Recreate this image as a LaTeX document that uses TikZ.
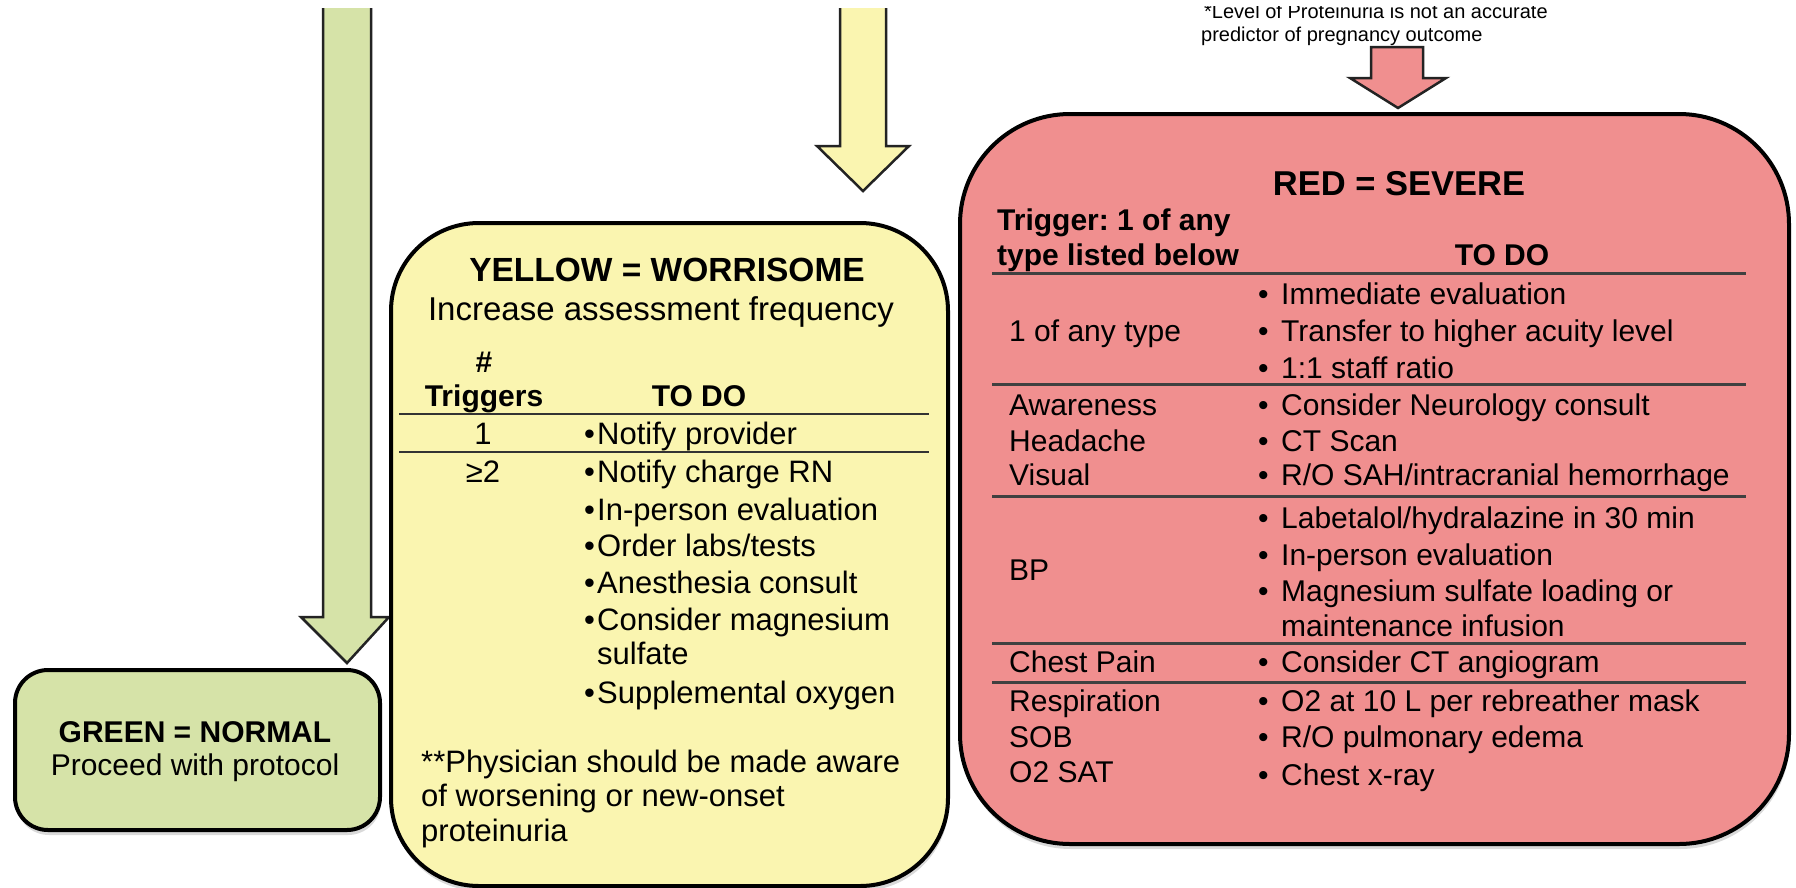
\documentclass[tikz,border=0pt]{standalone}
\usepackage{fontspec}
\setmainfont{Liberation Sans}
\usetikzlibrary{shadows}
\definecolor{gfill}{RGB}{214,227,168}
\definecolor{yfill}{RGB}{250,245,176}
\definecolor{rfill}{RGB}{240,143,143}
\definecolor{outl}{RGB}{35,35,35}
\frenchspacing
\begin{document}
\begin{tikzpicture}[x=1pt,y=-1pt,
  box/.style={draw=black, line width=4pt, inner sep=0pt, anchor=north west,
     drop shadow={shadow xshift=1pt, shadow yshift=-5pt, opacity=0.3}},
  arrowline/.style={draw=outl, line width=2.5pt, line join=miter},
  lbl/.style={inner sep=0pt, anchor=base west},
  ctr/.style={inner sep=0pt, anchor=base},
  ytxt/.style={font=\fontsize{31}{37}\selectfont},
  rtxt/.style={font=\fontsize{30}{36}\selectfont},
  hd/.style={font=\fontsize{30}{36}\selectfont\bfseries},
  yrule/.style={line width=2pt, draw=black!80},
  rrule/.style={line width=3pt, draw=black!75},
  fn/.style={font=\fontsize{20}{22}\selectfont},
]
\useasboundingbox (0,0) rectangle (1796,887);

% ---------- block arrows ----------
\fill[gfill] (323,8) -- (371,8) -- (371,617) -- (389,617) -- (347,663) -- (301,617) -- (323,617) -- cycle;
\draw[arrowline] (323,8) -- (323,617) -- (301,617) -- (347,663) -- (389,617) -- (371,617) -- (371,8);

\fill[yfill] (840,8) -- (886,8) -- (886,146) -- (909,146) -- (863,191) -- (817,146) -- (840,146) -- cycle;
\draw[arrowline] (840,8) -- (840,146) -- (817,146) -- (863,191) -- (909,146) -- (886,146) -- (886,8);

\path[arrowline, fill=rfill] (1371,47) -- (1423,47) -- (1423,78) -- (1446,78) -- (1398,108) -- (1350,78) -- (1371,78) -- cycle;

% ---------- boxes ----------
\node[box, fill=gfill, rounded corners=33pt, minimum width=365pt, minimum height=160pt] (green) at (13,668) {};
\node[box, fill=yfill, rounded corners=88pt, minimum width=557pt, minimum height=663pt] (yellow) at (389,221) {};
\node[box, fill=rfill, rounded corners=110pt, minimum width=829pt, minimum height=730pt] (red) at (958,112) {};

% ---------- footnote (top line cut off by the page edge) ----------
\node[lbl, fn] (fn1) at (1204,18) {*Level of Proteinuria is not an accurate};
\node[lbl, fn] (fn2) at (1201,41) {predictor of pregnancy outcome};
\fill[white] (1180,0) rectangle (1600,6);

% ---------- green ----------
\node[ctr, hd] (gtitle) at (195,742) {GREEN = NORMAL};
\node[ctr, rtxt] (gsub) at (195,775) {Proceed with protocol};

% ---------- yellow ----------
\node[ctr, font=\fontsize{33.5}{40}\selectfont\bfseries] (ytitle) at (667,281) {YELLOW = WORRISOME};
\node[ctr, font=\fontsize{33}{40}\selectfont] (yinc) at (661,320) {Increase assessment frequency};
\node[ctr, hd] (yhash) at (484,372) {\#};
\node[ctr, hd] (ytrig) at (484,406) {Triggers};
\node[ctr, hd] (ytodo) at (699,406) {TO DO};
\draw[yrule] (399,413.5) -- (929,413.5);
\node[ctr, ytxt] (yone) at (483,444) {1};
\node[lbl, ytxt] (ya1) at (584,444) {\makebox[13pt][l]{•}Notify provider};
\draw[yrule] (399,452) -- (929,452);
\node[ctr, ytxt] (ytwo) at (483,482) {≥2};
\node[lbl, ytxt] (yb1) at (584,482) {\makebox[13pt][l]{•}Notify charge RN};
\node[lbl, ytxt] (yb2) at (584,520) {\makebox[13pt][l]{•}In-person evaluation};
\node[lbl, ytxt] (yb3) at (584,556) {\makebox[13pt][l]{•}Order labs/tests};
\node[lbl, ytxt] (yb4) at (584,593) {\makebox[13pt][l]{•}Anesthesia consult};
\node[lbl, ytxt] (yb5) at (584,630) {\makebox[13pt][l]{•}Consider magnesium};
\node[lbl, ytxt] (yb5b) at (597,664) {sulfate};
\node[lbl, ytxt] (yb6) at (584,703) {\makebox[13pt][l]{•}Supplemental oxygen};
\node[lbl, ytxt] (yn1) at (421,772) {**Physician should be made aware};
\node[lbl, ytxt] (yn2) at (421,806) {of worsening or new-onset};
\node[lbl, ytxt] (yn3) at (421,841) {proteinuria};

% ---------- red ----------
\node[ctr, font=\fontsize{34.5}{41}\selectfont\bfseries] (rtitle) at (1399,195) {RED = SEVERE};
\node[lbl, hd] (rtrig1) at (997,230) {Trigger: 1 of any};
\node[lbl, hd] (rtrig2) at (997,265) {type listed below};
\node[ctr, hd] (rtodo) at (1502,265) {TO DO};
\draw[rrule] (992,273) -- (1746,273);

\node[lbl, rtxt] (rl1) at (1009,341) {1 of any type};
\node[lbl, rtxt] (ra1) at (1258,304) {\makebox[23pt][l]{•}Immediate evaluation};
\node[lbl, rtxt] (ra2) at (1258,341) {\makebox[23pt][l]{•}Transfer to higher acuity level};
\node[lbl, rtxt] (ra3) at (1258,378) {\makebox[23pt][l]{•}1:1 staff ratio};
\draw[rrule] (992,384) -- (1746,384);

\node[lbl, rtxt] (rl2a) at (1009,415) {Awareness};
\node[lbl, rtxt] (rl2b) at (1009,451) {Headache};
\node[lbl, rtxt] (rl2c) at (1009,485) {Visual};
\node[lbl, rtxt] (rb1) at (1258,415) {\makebox[23pt][l]{•}Consider Neurology consult};
\node[lbl, rtxt] (rb2) at (1258,451) {\makebox[23pt][l]{•}CT Scan};
\node[lbl, rtxt] (rb3) at (1258,485) {\makebox[23pt][l]{•}R/O SAH/intracranial hemorrhage};
\draw[rrule] (992,496) -- (1746,496);

\node[lbl, rtxt] (rl3) at (1009,580) {BP};
\node[lbl, rtxt] (rc1) at (1258,528) {\makebox[23pt][l]{•}Labetalol/hydralazine in 30 min};
\node[lbl, rtxt] (rc2) at (1258,565) {\makebox[23pt][l]{•}In-person evaluation};
\node[lbl, rtxt] (rc3) at (1258,601) {\makebox[23pt][l]{•}Magnesium sulfate loading or};
\node[lbl, rtxt] (rc3b) at (1281,636) {maintenance infusion};
\draw[rrule] (992,643) -- (1746,643);

\node[lbl, rtxt] (rl4) at (1009,672) {Chest Pain};
\node[lbl, rtxt] (rd1) at (1258,672) {\makebox[23pt][l]{•}Consider CT angiogram};
\draw[rrule] (992,682) -- (1746,682);

\node[lbl, rtxt] (rl5a) at (1009,711) {Respiration};
\node[lbl, rtxt] (rl5b) at (1009,747) {SOB};
\node[lbl, rtxt] (rl5c) at (1009,782) {O2 SAT};
\node[lbl, rtxt] (re1) at (1258,711) {\makebox[23pt][l]{•}O2 at 10 L per rebreather mask};
\node[lbl, rtxt] (re2) at (1258,747) {\makebox[23pt][l]{•}R/O pulmonary edema};
\node[lbl, rtxt] (re3) at (1258,785) {\makebox[23pt][l]{•}Chest x-ray};
\end{tikzpicture}
\end{document}
